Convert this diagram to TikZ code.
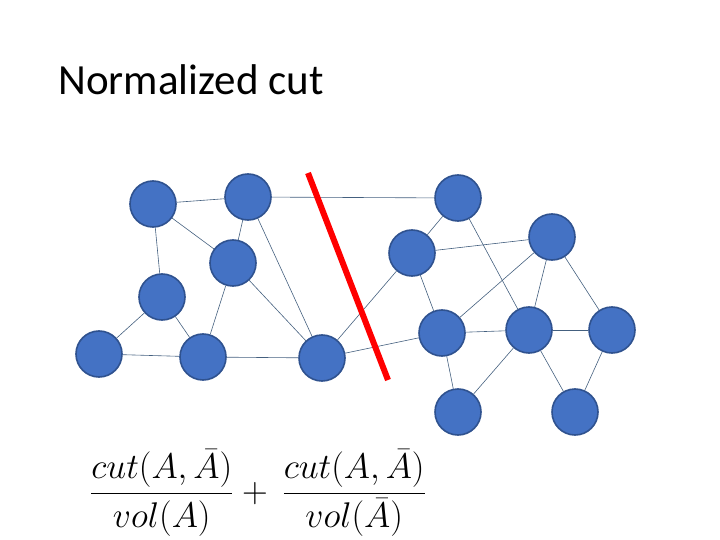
\documentclass[tikz,border=0pt]{standalone}
\usepackage{amsmath}
\usepackage{fontspec}
\setmainfont{Carlito}
\usepackage{tikz}
\usetikzlibrary{backgrounds}

\definecolor{nodefill}{HTML}{4472C4}
\definecolor{nodeline}{HTML}{2F528F}
\definecolor{edgeline}{HTML}{44607F}

\begin{document}
\begin{tikzpicture}[x=1pt, y=-1pt,
	vertex/.style={circle, fill=nodefill, draw=nodeline, line width=1.6pt, minimum size=46pt, inner sep=0pt},
	link/.style={draw=edgeline, line width=0.6pt},
	cutline/.style={draw=red, line width=6pt}]
	\useasboundingbox (0,0) rectangle (720,540);

	\node[anchor=base west, font=\fontsize{43}{52}\selectfont] (title) at (55,95) {Normalized cut};

% left side
	\node[vertex] (a1) at (153,204) {};
	\node[vertex] (a2) at (248,197) {};
	\node[vertex] (a3) at (233,263) {};
	\node[vertex] (a4) at (162,297) {};
	\node[vertex] (a5) at (99,354) {};
	\node[vertex] (a6) at (203,357) {};
	\node[vertex] (a7) at (322,358) {};
% right side
	\node[vertex] (b1) at (458,198) {};
	\node[vertex] (b2) at (412,253) {};
	\node[vertex] (b3) at (552,237) {};
	\node[vertex] (b4) at (442,333) {};
	\node[vertex] (b5) at (529,330) {};
	\node[vertex] (b6) at (612,330) {};
	\node[vertex] (b7) at (458,412) {};
	\node[vertex] (b8) at (575,412) {};

	\begin{scope}[on background layer]
	\foreach \u/\v in {a1/a2, a1/a3, a1/a4, a2/a3, a2/a7, a3/a6, a3/a7, a4/a5, a4/a6, a5/a6, a6/a7,
		a2/b1, a7/b2, a7/b4,
		b1/b2, b1/b5, b2/b3, b2/b4, b3/b4, b3/b5, b3/b6, b4/b5, b4/b7, b5/b6, b5/b7, b5/b8, b6/b8}
		\draw[link] (\u) -- (\v);
	\end{scope}

	\coordinate (cuttop) at (308,173);
	\coordinate (cutbot) at (388,380);
	\draw[cutline] (cuttop) -- (cutbot);

	\node[font=\huge, scale=1.72, inner sep=0pt] (ncut) at (258,493)
		{$\dfrac{cut(A,\bar{A})}{vol(A)}+\,\dfrac{cut(A,\bar{A})}{vol(\bar{A})}$};
\end{tikzpicture}
\end{document}
